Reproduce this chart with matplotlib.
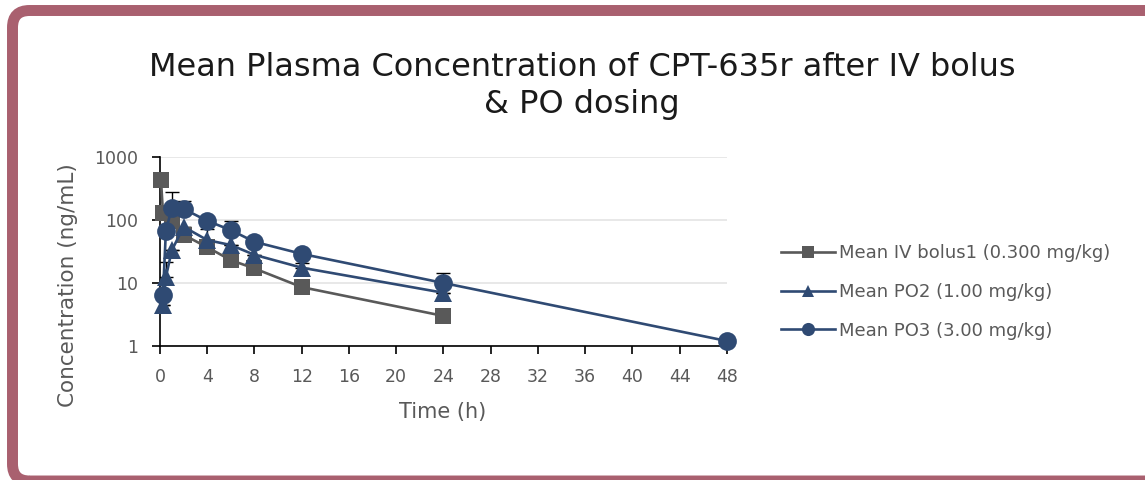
import matplotlib
matplotlib.use("Agg")
from matplotlib import pyplot as plt
from matplotlib.patches import FancyBboxPatch
from matplotlib.ticker import FixedLocator, NullLocator

# mean plasma concentrations (ng/mL) and upper error (SD) per dosing group
t_iv = [0.083, 0.25, 1, 2, 4, 6, 8, 12, 24]
c_iv = [431, 130, 95, 58, 37, 23, 17, 8.6, 3.0]
sd_iv = [0, 0, 0, 0, 0, 0, 0, 0, 0]

t_po2 = [0.25, 0.5, 1, 2, 4, 6, 8, 12, 24]
c_po2 = [4.5, 12.5, 33, 78, 48, 40, 28, 17.5, 7.0]
sd_po2 = [0, 9, 0, 0, 24, 0, 0, 3, 0]

t_po3 = [0.25, 0.5, 1, 2, 4, 6, 8, 12, 24, 48]
c_po3 = [6.5, 68, 155, 150, 97, 69, 45, 29, 10, 1.2]
sd_po3 = [0, 0, 123, 52, 0, 27, 0, 0, 4.5, 0]

labels = ["Mean IV bolus1 (0.300 mg/kg)", "Mean PO2 (1.00 mg/kg)", "Mean PO3 (3.00 mg/kg)"]
x_ticks = list(range(0, 49, 4))
y_ticks = [1, 10, 100, 1000]

gray = "#595959"
navy = "#2F4A73"
text_gray = "#595959"

plt.rcParams["font.family"] = ["DejaVu Sans"]

fig = plt.figure(figsize=(11.45, 4.8), dpi=100)

# rounded frame around the whole chart
frame = FancyBboxPatch((0.125, -0.01), 11.6, 4.705,
                       boxstyle="round,pad=0,rounding_size=0.17",
                       transform=fig.dpi_scale_trans, facecolor="none",
                       edgecolor="#A9606F", linewidth=7.9, zorder=-1)
fig.patches.append(frame)

ax = fig.add_axes([160 / 1145, (480 - 346) / 480, 567 / 1145, 189 / 480])
ax.set_facecolor("none")

series = [
    (t_iv, c_iv, sd_iv, gray, "s", 11.5),
    (t_po2, c_po2, sd_po2, navy, "^", 12.5),
    (t_po3, c_po3, sd_po3, navy, "o", 13.5),
]
handles = []
for (t, c, sd, col, mk, ms), lab in zip(series, labels):
    ax.errorbar(t, c, yerr=[[0] * len(sd), sd], fmt="none", ecolor="black",
                elinewidth=1.0, capsize=5, capthick=1.0, zorder=2)
    h, = ax.plot(t, c, color=col, marker=mk, markersize=ms, linewidth=1.9,
                 markeredgewidth=0, label=lab, zorder=3, clip_on=False)
    handles.append(h)

ax.set_yscale("log")
ax.set_ylim(1, 1000)
ax.set_xlim(0, 48)
ax.xaxis.set_major_locator(FixedLocator(x_ticks))
ax.yaxis.set_major_locator(FixedLocator(y_ticks))
ax.yaxis.set_minor_locator(NullLocator())
ax.set_yticklabels([str(v) for v in y_ticks])
ax.grid(axis="y", color="#E6E6E6", linewidth=1.3, zorder=0)
ax.set_axisbelow(True)

for side in ["top", "right"]:
    ax.spines[side].set_visible(False)
for side in ["left", "bottom"]:
    ax.spines[side].set_linewidth(1.2)
    ax.spines[side].set_color("black")
ax.tick_params(axis="both", direction="out", length=6, width=1.2, color="black",
               labelsize=12.5, labelcolor=text_gray)
ax.tick_params(axis="x", pad=10)
ax.tick_params(axis="y", pad=10)

fig.text(443 / 1145, 1 - 412 / 480, "Time (h)", ha="center", va="center",
         fontsize=15, color=text_gray)
fig.text(68 / 1145, 1 - 285 / 480, "Concentration (ng/mL)", ha="center", va="center",
         rotation=90, fontsize=15.5, color=text_gray)

fig.text(582 / 1145, 1 - 67 / 480, "Mean Plasma Concentration of CPT-635r after IV bolus",
         ha="center", va="center", fontsize=23, color="#1a1a1a")
fig.text(582 / 1145, 1 - 104 / 480, "& PO dosing",
         ha="center", va="center", fontsize=23, color="#1a1a1a")

fig.legend(handles=handles, loc="center left", bbox_to_anchor=(765 / 1145, 1 - 292 / 480),
           frameon=False, fontsize=13, labelcolor=text_gray, handlelength=3.0,
           handletextpad=0.2, labelspacing=1.15, markerscale=0.7)

fig.savefig("out.png", dpi=100)
